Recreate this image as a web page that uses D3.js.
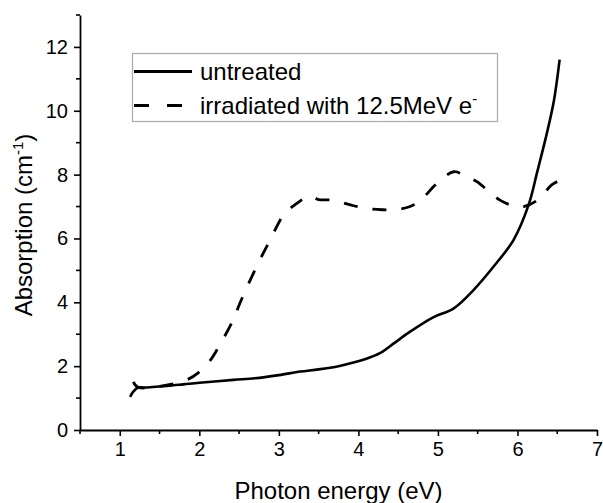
<!DOCTYPE html>
<html>
<head>
<meta charset="utf-8">
<script src="https://cdn.jsdelivr.net/npm/d3@7"></script>
<style>
  body { margin: 0; background: #fff; }
  text { font-family: "Liberation Sans", Arial, sans-serif; fill: #000; }
</style>
</head>
<body>
<div id="chart"></div>
<script>
// Data
var untreatedX = [1.13, 1.17, 1.23, 1.3, 1.59, 1.8, 2.0, 2.43, 2.7, 3.0, 3.27, 3.5, 3.75, 3.95, 4.15, 4.3, 4.45, 4.65, 4.94, 5.2, 5.45, 5.7, 5.95, 6.14, 6.25, 6.37, 6.46, 6.53];
var untreatedY = [1.04, 1.2, 1.33, 1.33, 1.38, 1.43, 1.48, 1.57, 1.62, 1.72, 1.83, 1.9, 2.0, 2.12, 2.28, 2.45, 2.72, 3.08, 3.53, 3.81, 4.39, 5.12, 5.95, 7.05, 8.1, 9.3, 10.34, 11.6];

var irradX = [1.17, 1.23, 1.5, 1.84, 1.99, 2.14, 2.24, 2.43, 2.51, 2.72, 2.89, 3.06, 3.2, 3.39, 3.5, 3.68, 3.9, 4.1, 4.3, 4.48, 4.65, 4.78, 5.0, 5.2, 5.35, 5.49, 5.65, 5.78, 5.95, 6.08, 6.25, 6.43, 6.5];
var irradY = [1.51, 1.34, 1.37, 1.57, 1.8, 2.19, 2.59, 3.47, 3.97, 5.12, 5.95, 6.74, 7.05, 7.33, 7.22, 7.2, 7.05, 6.94, 6.9, 6.91, 7.0, 7.2, 7.75, 8.09, 7.95, 7.78, 7.45, 7.2, 7.02, 7.0, 7.2, 7.68, 7.78];

var seriesNames = ["untreated", "irradiated with 12.5MeV e"];
var xTicks = [1, 2, 3, 4, 5, 6, 7];
var xMinorTicks = [0.5, 1.5, 2.5, 3.5, 4.5, 5.5, 6.5];
var yTicks = [0, 2, 4, 6, 8, 10, 12];
var yMinorTicks = [1, 3, 5, 7, 9, 11, 13];

var width = 603, height = 503;
var margin = { left: 80, right: 6, top: 15, bottom: 73 };

var svg = d3.select("#chart").append("svg")
  .attr("width", width)
  .attr("height", height);

var x = d3.scaleLinear().domain([0.5, 7]).range([margin.left, width - margin.right]);
var y = d3.scaleLinear().domain([0, 13]).range([height - margin.bottom, margin.top]);

// axes
var xAxis = svg.append("g")
  .attr("transform", "translate(0," + y(0) + ")")
  .call(d3.axisBottom(x).tickValues(xTicks).tickSize(6).tickSizeOuter(0).tickPadding(6).tickFormat(d3.format("d")));
xAxis.append("g").selectAll("line")
  .data(xMinorTicks).enter().append("line")
  .attr("x1", function(d) { return x(d); })
  .attr("x2", function(d) { return x(d); })
  .attr("y1", 0).attr("y2", 4)
  .attr("stroke", "#000").attr("stroke-width", 1.6);

var yAxis = svg.append("g")
  .attr("transform", "translate(" + x(0.5) + ",0)")
  .call(d3.axisLeft(y).tickValues(yTicks).tickSize(6).tickSizeOuter(0).tickPadding(6).tickFormat(d3.format("d")));
yAxis.append("g").selectAll("line")
  .data(yMinorTicks).enter().append("line")
  .attr("y1", function(d) { return y(d); })
  .attr("y2", function(d) { return y(d); })
  .attr("x1", 0).attr("x2", -4)
  .attr("stroke", "#000").attr("stroke-width", 1.6);

svg.selectAll(".domain").attr("stroke", "#000").attr("stroke-width", 1.8);
svg.selectAll(".tick line").attr("stroke", "#000").attr("stroke-width", 1.6);
svg.selectAll(".tick text").style("font-size", "20px").style("font-family", "'Liberation Sans', Arial, sans-serif");

// axis titles
svg.append("text")
  .attr("x", (x(0.5) + x(7)) / 2)
  .attr("y", 499)
  .attr("text-anchor", "middle")
  .style("font-size", "24px")
  .text("Photon energy (eV)");

var yTitle = svg.append("text")
  .attr("transform", "translate(32,225) rotate(-90)")
  .attr("text-anchor", "middle")
  .style("font-size", "24px");
yTitle.append("tspan").text("Absorption (cm");
yTitle.append("tspan").attr("dy", -9).style("font-size", "15px").text("-1");
yTitle.append("tspan").attr("dy", 9).text(")");

// lines
var line = d3.line()
  .x(function(d) { return x(d[0]); })
  .y(function(d) { return y(d[1]); })
  .curve(d3.curveCatmullRom);

svg.append("path")
  .datum(untreatedX.map(function(v, i) { return [v, untreatedY[i]]; }))
  .attr("d", line)
  .attr("fill", "none")
  .attr("stroke", "#000")
  .attr("stroke-width", 2.6);

svg.append("path")
  .datum(irradX.map(function(v, i) { return [v, irradY[i]]; }))
  .attr("d", line)
  .attr("fill", "none")
  .attr("stroke", "#000")
  .attr("stroke-width", 2.8)
  .attr("stroke-dasharray", "14,15");

// legend
var legend = svg.append("g");
legend.append("rect")
  .attr("x", 132.5).attr("y", 53.5)
  .attr("width", 365).attr("height", 68)
  .attr("fill", "#fff")
  .attr("stroke", "#aaa")
  .attr("stroke-width", 1.2);

legend.append("line")
  .attr("x1", 134).attr("x2", 192).attr("y1", 71.5).attr("y2", 71.5)
  .attr("stroke", "#000").attr("stroke-width", 3);
legend.append("line")
  .attr("x1", 134).attr("x2", 192).attr("y1", 105.5).attr("y2", 105.5)
  .attr("stroke", "#000").attr("stroke-width", 3)
  .attr("stroke-dasharray", "15,18");

legend.append("text")
  .attr("x", 200).attr("y", 79.5)
  .style("font-size", "24px")
  .text(seriesNames[0]);
var t2 = legend.append("text")
  .attr("x", 200).attr("y", 113.5)
  .style("font-size", "24px");
t2.append("tspan").text(seriesNames[1]);
t2.append("tspan").attr("dy", -10).style("font-size", "15px").text("-");
</script>
</body>
</html>
